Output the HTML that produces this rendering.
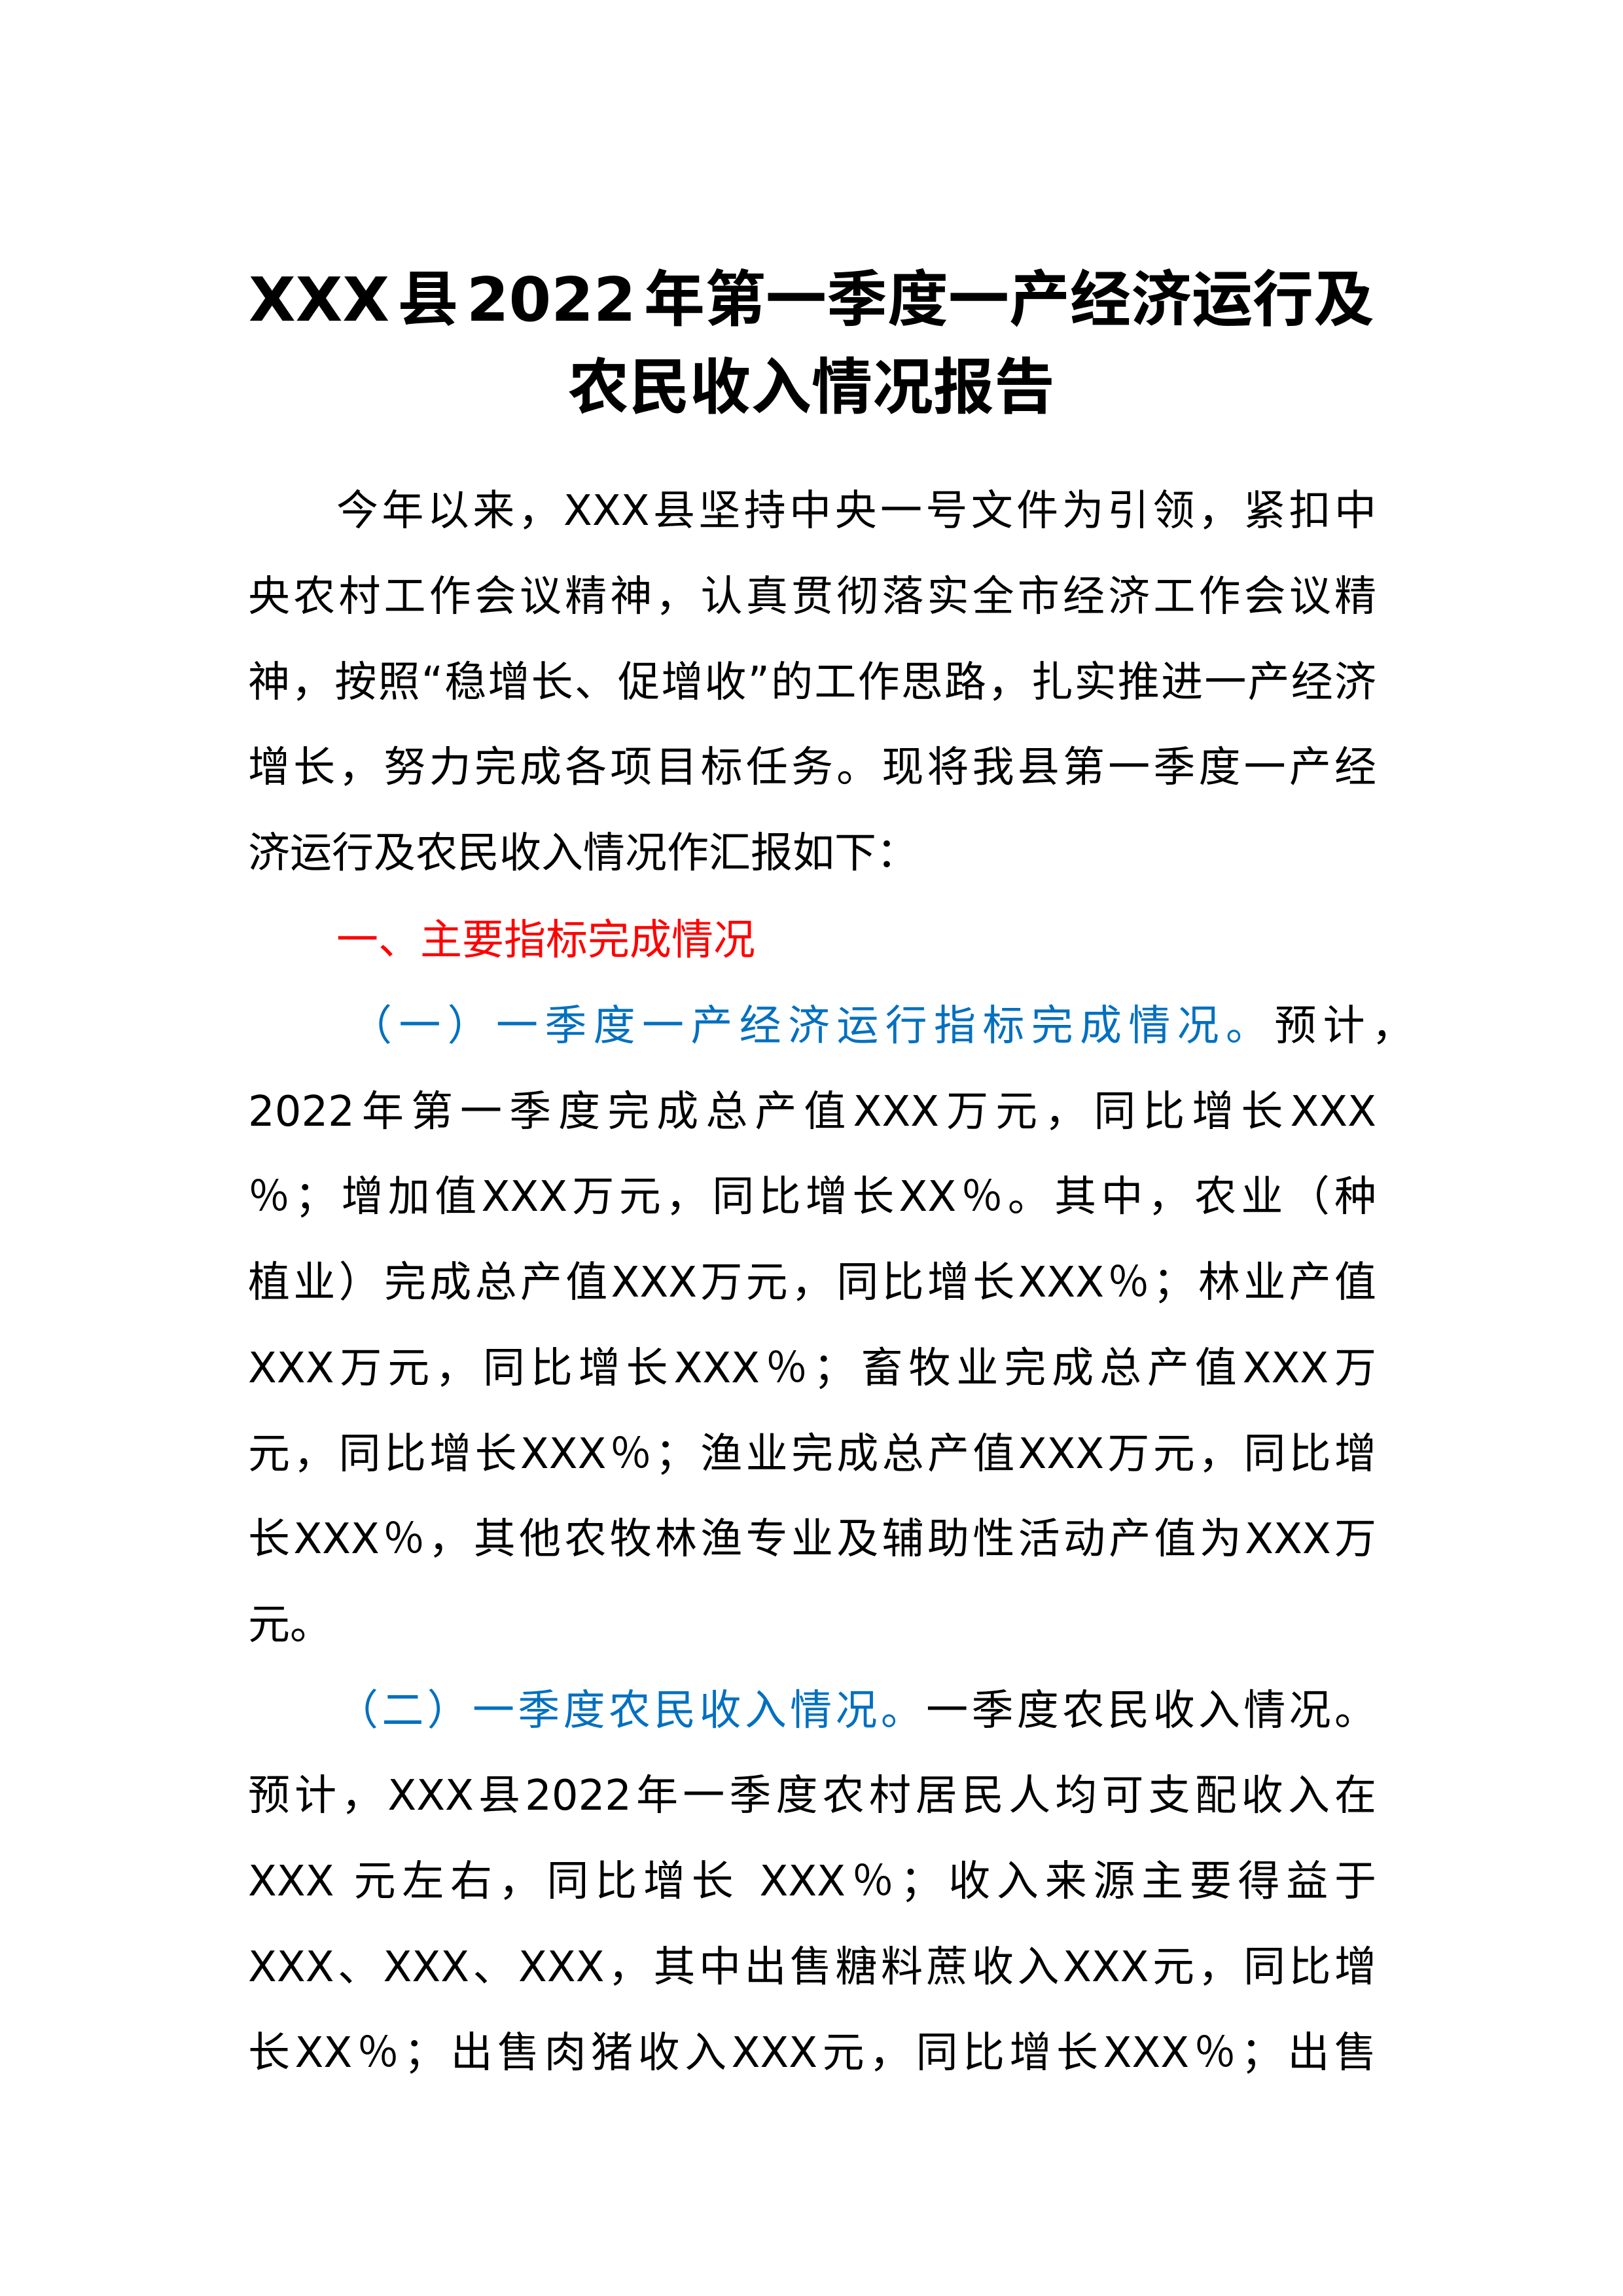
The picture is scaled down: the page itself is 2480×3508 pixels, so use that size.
<!DOCTYPE html>
<html><head><meta charset="utf-8"><style>
html,body{margin:0;padding:0;background:#fff;}
body{width:2480px;height:3508px;position:relative;overflow:hidden;font-family:"DejaVu Sans","Noto Sans CJK SC",sans-serif;color:#000;}
.t{position:absolute;left:0;width:2480px;text-align:center;font-weight:bold;font-size:93px;line-height:130px;white-space:nowrap;}
.l{position:absolute;font-size:64px;line-height:130px;white-space:nowrap;text-align:justify;text-align-last:justify;left:379px;width:1724px;}
.n{text-align:left;text-align-last:left;}
.r{color:#ff0000;}
.b{color:#0070c0;}
</style></head><body>
<div class="t" style="top:393px;word-spacing:-20px">XXX 县 2022 年第一季度一产经济运行及</div>
<div class="t" style="top:527px">农民收入情况报告</div>

<div class="l" style="top:716px;left:514px;width:1589px">今年以来，XXX县坚持中央一号文件为引领，紧扣中</div>
<div class="l" style="top:847px">央农村工作会议精神，认真贯彻落实全市经济工作会议精</div>
<div class="l" style="top:978px">神，按照“稳增长、促增收”的工作思路，扎实推进一产经济</div>
<div class="l" style="top:1108px">增长，努力完成各项目标任务。现将我县第一季度一产经</div>
<div class="l n" style="top:1239px">济运行及农民收入情况作汇报如下：</div>
<div class="l n r" style="top:1372px;left:514px">一、主要指标完成情况</div>
<div class="l" style="top:1503px;left:535px;width:1625px"><span class="b">（一）一季度一产经济运行指标完成情况。</span>预计，</div>
<div class="l" style="top:1634px">2022年第一季度完成总产值XXX万元，同比增长XXX</div>
<div class="l" style="top:1764px">％；增加值XXX万元，同比增长XX％。其中，农业（种</div>
<div class="l" style="top:1895px">植业）完成总产值XXX万元，同比增长XXX％；林业产值</div>
<div class="l" style="top:2026px">XXX万元，同比增长XXX％；畜牧业完成总产值XXX万</div>
<div class="l" style="top:2157px">元，同比增长XXX％；渔业完成总产值XXX万元，同比增</div>
<div class="l" style="top:2287px">长XXX％，其他农牧林渔专业及辅助性活动产值为XXX万</div>
<div class="l n" style="top:2418px">元。</div>
<div class="l" style="top:2549px;left:514px;width:1589px"><span class="b">（二）一季度农民收入情况。</span>一季度农民收入情况。</div>
<div class="l" style="top:2679px">预计，XXX县2022年一季度农村居民人均可支配收入在</div>
<div class="l" style="top:2810px">XXX 元左右，同比增长 XXX％；收入来源主要得益于</div>
<div class="l" style="top:2941px">XXX、XXX、XXX，其中出售糖料蔗收入XXX元，同比增</div>
<div class="l" style="top:3072px">长XX％；出售肉猪收入XXX元，同比增长XXX％；出售</div>
</body></html>
